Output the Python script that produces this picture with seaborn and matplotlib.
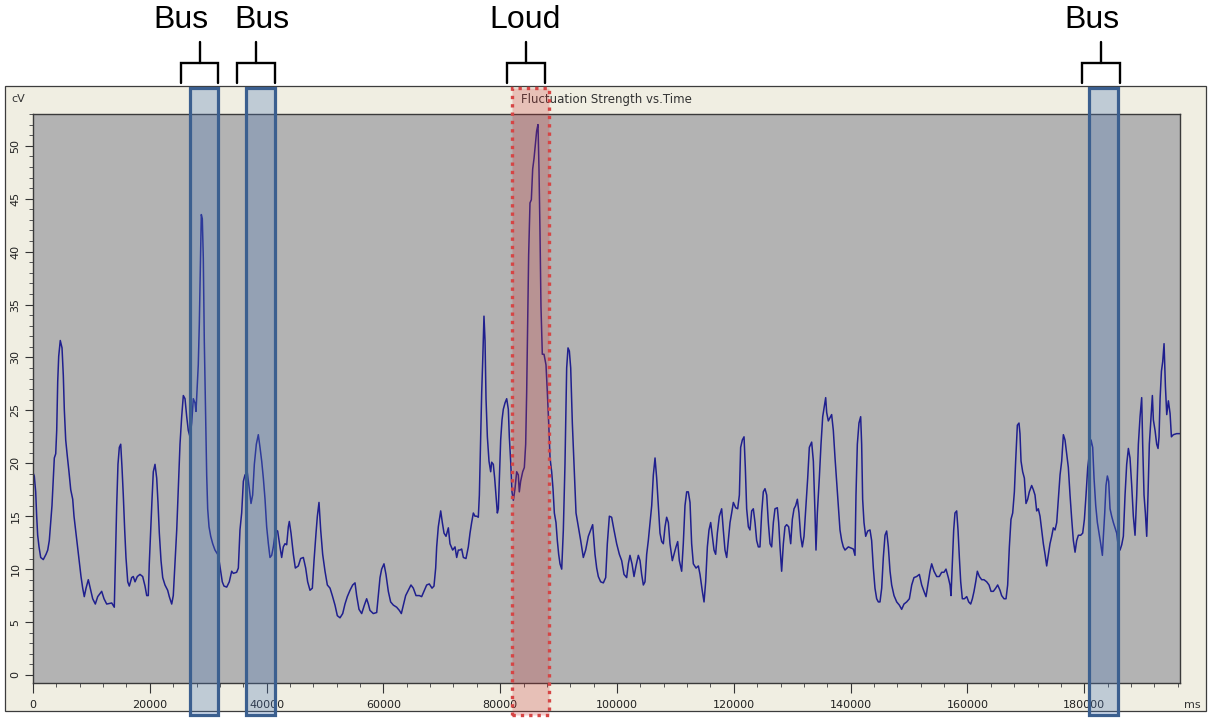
import numpy as np
import matplotlib
matplotlib.use("Agg")
import matplotlib.pyplot as plt
import matplotlib.transforms as mtransforms
from matplotlib.patches import Rectangle
from matplotlib.lines import Line2D
import seaborn as sns

sns.set_style("white")
plt.rcParams['font.family'] = ['DejaVu Sans']

# ---------------- data (time in seconds, fluctuation strength in cV) ----------------
t_seg1 = [0.00, 0.22, 0.46, 0.63, 0.80, 1.03, 1.32, 1.76, 2.23, 2.52,
          2.79, 3.03, 3.25, 3.48, 3.65, 3.89, 4.06, 4.23, 4.40, 4.67,
          4.97, 5.19, 5.36, 5.60, 5.87, 6.16, 6.46, 6.80, 7.02, 7.36,
          7.65, 7.93, 8.22, 8.51, 8.78, 9.08, 9.47, 9.88, 10.22, 10.67,
          11.08, 11.76, 12.16, 12.62, 13.48, 13.92, 14.16, 14.33, 14.55, 14.78,
          15.02, 15.24, 15.46, 15.70, 15.92, 16.22, 16.49, 16.90, 17.17, 17.47,
          17.86, 18.32, 18.78, 19.18, 19.47, 19.74, 19.91, 20.15, 20.38, 20.60,
          20.89, 21.18, 21.40, 21.63, 21.92, 22.21, 22.60, 23.06, 23.34, 23.75,
          24.02, 24.31, 24.61, 24.88, 25.17, 25.46, 25.74, 26.03, 26.32, 26.59,
          26.88, 27.17, 27.45, 27.74, 27.91, 28.13, 28.30, 28.48, 28.65, 28.82,
          28.99, 29.16, 29.33, 29.57, 29.74, 29.91, 30.14, 30.43, 30.77, 31.16,
          31.73, 32.14, 32.41, 32.70, 33.17, 33.61]
v_seg1 = [19.1, 18.8, 17.3, 15.0, 13.2, 12.1, 11.1, 10.9, 11.4, 11.8,
          12.7, 14.4, 16.0, 18.6, 20.5, 20.9, 23.1, 27.7, 30.1, 31.6,
          30.9, 28.3, 25.1, 22.2, 20.7, 19.2, 17.5, 16.6, 15.0, 13.4,
          12.1, 10.8, 9.3, 8.2, 7.4, 8.2, 9.0, 8.0, 7.2, 6.7,
          7.4, 7.9, 7.2, 6.7, 6.8, 6.4, 12.1, 16.0, 19.9, 21.5,
          21.8, 19.6, 17.0, 13.7, 11.1, 8.8, 8.4, 9.2, 9.3, 8.8,
          9.3, 9.5, 9.3, 8.4, 7.5, 7.5, 10.5, 13.7, 16.6, 19.2,
          19.9, 18.6, 16.3, 13.4, 10.8, 9.2, 8.5, 8.0, 7.4, 6.7,
          7.5, 10.5, 13.7, 17.6, 21.8, 24.4, 26.4, 26.1, 24.4, 23.1,
          22.5, 23.8, 26.1, 25.7, 24.9, 27.4, 29.3, 33.2, 38.4, 43.5,
          43.1, 39.4, 31.6, 24.1, 18.9, 15.7, 14.0, 13.1, 12.4, 11.8,
          11.3, 9.8, 8.8, 8.4, 8.3, 8.8]

t_seg2 = [34.02, 34.30, 34.87, 35.16, 35.44, 35.73, 36.02, 36.30, 36.70, 37.04,
          37.33, 37.61, 37.90, 38.24, 38.58, 38.87, 39.16, 39.44, 39.73, 40.01,
          40.30, 40.58, 40.87, 41.15, 41.55, 41.89, 42.29, 42.58, 42.86, 43.15,
          43.44, 43.72, 43.89, 44.18, 44.58, 44.92, 45.43, 45.83, 46.29, 46.69,
          47.03, 47.43, 47.83, 48.12, 48.46, 48.69, 48.97, 49.26, 49.60, 50.00,
          50.40, 50.86, 51.25, 51.71, 52.11, 52.57, 53.03, 53.42, 53.82, 54.28,
          54.74, 55.14, 55.42, 55.82, 56.28, 56.74, 57.13, 57.42, 57.70, 58.27,
          58.85, 59.13, 59.42, 59.70, 60.10, 60.44, 60.84, 61.24, 61.70, 62.27,
          62.73, 63.07, 63.41, 63.81, 64.27, 64.72, 65.12, 65.58, 66.15, 66.55,
          67.01, 67.41, 67.86, 68.32, 68.66, 68.95, 69.12, 69.40, 69.81, 70.09,
          70.38, 70.72, 71.12, 71.40, 71.86, 72.26, 72.55, 72.83]
v_seg2 = [9.8, 9.6, 9.7, 10.1, 13.7, 15.3, 18.3, 18.9, 19.1, 17.6,
          16.2, 17.0, 19.9, 21.8, 22.7, 21.5, 20.2, 18.6, 16.6, 14.0,
          12.4, 11.1, 11.3, 12.1, 13.7, 13.6, 12.1, 11.1, 12.1, 12.4,
          12.3, 14.0, 14.5, 13.4, 11.4, 10.1, 10.3, 11.0, 11.1, 10.1,
          8.8, 8.0, 8.2, 10.8, 13.4, 15.0, 16.3, 13.7, 11.4, 9.8,
          8.5, 8.2, 7.5, 6.6, 5.6, 5.4, 5.8, 6.7, 7.4, 8.0,
          8.5, 8.7, 7.5, 6.2, 5.8, 6.6, 7.2, 6.7, 6.1, 5.8,
          5.9, 7.5, 9.2, 10.0, 10.5, 9.5, 7.9, 6.9, 6.6, 6.4,
          6.1, 5.8, 6.6, 7.5, 8.0, 8.5, 8.2, 7.5, 7.5, 7.4,
          8.0, 8.5, 8.6, 8.2, 8.4, 10.1, 12.1, 14.0, 15.5, 14.4,
          13.4, 13.1, 13.9, 12.4, 11.8, 12.1, 11.1, 11.8]

t_seg3 = [73.11, 73.40, 73.69, 74.14, 74.54, 74.83, 75.11, 75.40, 75.68, 75.97,
          76.25, 76.43, 76.65, 76.83, 77.00, 77.22, 77.40, 77.57, 77.80, 78.08,
          78.37, 78.54, 78.82, 79.05, 79.28, 79.51, 79.68, 79.85, 80.08, 80.31,
          80.53, 80.82, 81.11, 81.39, 81.56, 81.79, 82.02, 82.25, 82.53, 82.82,
          83.10, 83.27, 83.50, 83.85, 84.13, 84.36, 84.53, 84.70, 84.87, 85.10,
          85.33, 85.56, 85.79, 86.01, 86.24, 86.47, 86.64, 86.81, 86.98, 87.21,
          87.50, 87.84, 88.07, 88.30, 88.53, 88.81, 89.04, 89.27, 89.55, 89.78,
          90.01, 90.24, 90.53, 90.81, 91.09, 91.38, 91.61, 91.84, 92.07, 92.35,
          92.64, 92.98, 93.38, 93.78, 94.23, 94.63, 95.09, 95.49, 95.83, 96.23,
          96.52, 96.80, 97.20, 97.66, 98.06, 98.34, 98.69, 99.08, 99.48, 99.94,
          100.40, 100.80, 101.20, 101.65, 101.94, 102.22, 102.57, 102.91, 103.25, 103.65,
          103.94, 104.22, 104.51, 104.79, 105.08, 105.36, 105.65, 105.94, 106.22, 106.51,
          106.79, 107.08, 107.36, 107.65, 107.93, 108.22, 108.50, 108.79, 109.07, 109.47,
          109.76, 110.10, 110.39, 110.67, 111.07, 111.35, 111.64, 111.93, 112.21]
v_seg3 = [11.8, 11.9, 11.1, 11.0, 12.1, 13.4, 14.4, 15.3, 15.0, 15.0,
          14.9, 17.0, 22.2, 26.7, 29.6, 33.9, 31.6, 26.1, 22.5, 20.2,
          19.2, 20.1, 19.9, 18.6, 17.0, 15.3, 15.7, 18.6, 22.2, 24.1,
          25.1, 25.7, 26.1, 25.1, 22.5, 20.2, 17.3, 16.5, 17.6, 19.2,
          18.9, 17.3, 18.3, 19.2, 19.6, 21.8, 26.7, 33.2, 39.7, 44.6,
          44.9, 47.8, 48.8, 50.1, 51.4, 52.0, 47.8, 41.9, 34.8, 30.3,
          30.3, 29.3, 26.7, 23.8, 20.5, 19.2, 17.6, 15.3, 14.4, 12.7,
          11.4, 10.5, 10.0, 13.7, 19.9, 29.0, 30.9, 30.6, 29.0, 23.8,
          19.9, 15.3, 14.0, 12.7, 11.1, 11.8, 13.1, 13.7, 14.2, 11.4,
          10.1, 9.3, 8.8, 8.7, 9.2, 12.4, 15.0, 14.9, 13.7, 12.4,
          11.4, 10.8, 9.5, 9.2, 10.5, 11.3, 10.5, 9.3, 10.3, 11.3,
          10.8, 9.5, 8.5, 8.8, 11.4, 12.7, 14.4, 16.0, 18.9, 20.5,
          18.6, 16.0, 13.4, 12.6, 12.4, 14.0, 14.9, 14.4, 12.4, 10.8,
          11.4, 12.1, 12.6, 10.8, 9.8, 12.4, 16.0, 17.3, 17.3]

t_seg4 = [112.50, 112.78, 113.07, 113.53, 113.93, 114.21, 114.61, 114.90, 115.18, 115.47,
          115.75, 116.04, 116.32, 116.61, 116.89, 117.18, 117.52, 117.92, 118.20, 118.49,
          118.78, 119.06, 119.35, 119.63, 119.92, 120.32, 120.66, 120.95, 121.17, 121.46,
          121.75, 121.97, 122.20, 122.49, 122.77, 123.06, 123.34, 123.63, 123.91, 124.20,
          124.48, 124.77, 125.05, 125.34, 125.63, 125.91, 126.20, 126.48, 126.77, 127.05,
          127.45, 127.68, 127.91, 128.19, 128.48, 128.76, 129.05, 129.39, 129.74, 130.02,
          130.31, 130.59, 130.88, 131.16, 131.45, 131.73, 132.02, 132.36, 132.65, 132.93,
          133.33, 133.62, 133.90, 134.07, 134.30, 134.64, 134.93, 135.22, 135.50, 135.73,
          135.90, 136.18, 136.47, 136.75, 137.04, 137.33, 137.61, 137.90, 138.18, 138.47,
          138.75, 139.04, 139.61, 140.46, 140.75, 140.92, 141.15, 141.43, 141.72, 141.89,
          142.06, 142.29, 142.58, 142.92, 143.32, 143.60, 143.89, 144.17, 144.46, 144.75,
          145.03, 145.32, 145.60, 145.89, 146.17, 146.46, 146.75, 147.03, 147.43, 147.89,
          148.34, 148.74, 149.14, 149.60, 150.06, 150.46, 150.85, 151.31, 151.77]
v_seg4 = [16.3, 12.4, 10.5, 10.1, 10.3, 9.5, 7.9, 6.9, 8.8, 12.1,
          13.7, 14.4, 13.1, 11.8, 11.4, 13.4, 15.0, 15.7, 13.7, 11.8,
          11.1, 12.7, 14.4, 15.3, 16.3, 15.8, 15.7, 17.0, 21.5, 22.2,
          22.5, 19.6, 15.7, 14.0, 13.7, 15.5, 15.7, 14.4, 12.7, 12.1,
          12.1, 15.3, 17.3, 17.6, 17.0, 14.4, 12.4, 12.1, 14.4, 15.7,
          15.8, 14.4, 12.1, 9.8, 12.4, 14.0, 14.2, 14.0, 12.4, 14.7,
          15.7, 16.0, 16.6, 15.3, 13.1, 12.1, 13.1, 16.0, 18.6, 21.5,
          22.0, 20.2, 15.3, 11.8, 15.3, 18.6, 21.8, 24.4, 25.4, 26.2,
          24.8, 24.0, 24.3, 24.6, 23.1, 20.5, 18.3, 16.0, 13.7, 12.7,
          12.1, 11.8, 12.1, 11.9, 11.3, 17.0, 21.8, 23.8, 24.4, 21.8,
          16.6, 14.4, 13.1, 13.6, 13.7, 12.7, 10.1, 8.2, 7.2, 6.9,
          6.9, 8.2, 11.1, 13.2, 13.6, 12.1, 9.8, 8.5, 7.5, 6.9,
          6.6, 6.2, 6.7, 6.9, 7.2, 8.5, 9.2, 9.3, 9.5]

t_seg5 = [152.17, 152.56, 152.91, 153.31, 153.59, 153.88, 154.28, 154.74, 155.19, 155.59,
          155.99, 156.33, 156.73, 157.02, 157.19, 157.42, 157.65, 157.87, 158.16, 158.39,
          158.62, 158.85, 159.13, 159.48, 159.88, 160.22, 160.56, 160.85, 161.13, 161.42,
          161.70, 162.05, 162.44, 162.84, 163.30, 163.70, 164.04, 164.44, 164.84, 165.18,
          165.58, 165.86, 166.26, 166.61, 166.89, 167.18, 167.46, 167.75, 168.04, 168.26,
          168.55, 168.83, 169.00, 169.18, 169.46, 169.75, 170.03, 170.32, 170.60, 171.00,
          171.29, 171.57, 171.86, 172.14, 172.43, 172.72, 173.00, 173.29, 173.57, 173.86,
          174.14, 174.43, 174.71, 175.00, 175.29, 175.57, 175.86, 176.14, 176.43, 176.71,
          177.00, 177.28, 177.57, 177.86, 178.14, 178.43, 178.71, 179.00, 179.40, 179.74,
          180.03, 180.31, 180.60, 180.88, 181.17, 181.45, 181.68, 181.97, 182.25, 182.54,
          182.82, 183.11, 183.28, 183.51, 183.73, 183.96, 184.19, 184.42, 184.70, 184.99,
          185.27, 185.56, 185.84, 186.13, 186.42, 186.70, 186.99, 187.27, 187.56, 187.84,
          188.13, 188.41, 188.70, 188.99, 189.27, 189.56, 189.84, 190.01, 190.24, 190.47,
          190.70, 190.92, 191.15, 191.44, 191.67, 191.84, 192.13, 192.41, 192.64, 192.81,
          192.99, 193.22, 193.44, 193.67, 193.90, 194.13, 194.41, 194.70, 194.93, 195.26,
          195.83, 196.40]
v_seg5 = [8.5, 7.9, 7.4, 8.8, 9.8, 10.5, 9.8, 9.3, 9.3, 9.7,
          9.7, 10.0, 9.2, 8.5, 7.5, 10.5, 13.7, 15.3, 15.5, 13.7,
          11.1, 8.8, 7.2, 7.2, 7.4, 6.9, 6.7, 7.2, 7.9, 8.8,
          9.8, 9.3, 9.0, 9.0, 8.8, 8.5, 7.9, 7.9, 8.2, 8.5,
          8.0, 7.5, 7.2, 7.2, 8.5, 12.1, 14.7, 15.3, 17.3, 20.2,
          23.6, 23.8, 22.8, 20.2, 19.2, 18.6, 16.2, 16.6, 17.3, 17.9,
          17.5, 17.0, 15.5, 15.7, 15.0, 13.7, 12.4, 11.4, 10.3, 11.4,
          12.4, 13.1, 13.9, 13.7, 14.4, 16.6, 18.9, 20.2, 22.7, 22.2,
          20.9, 19.6, 17.0, 14.7, 12.7, 11.6, 12.7, 13.2, 13.2, 13.4,
          14.7, 17.0, 19.6, 20.9, 22.2, 21.5, 18.6, 16.0, 14.4, 13.4,
          12.4, 11.3, 13.1, 15.3, 17.9, 18.8, 18.3, 15.7, 15.0, 14.4,
          13.9, 13.4, 12.1, 11.8, 12.3, 13.1, 17.0, 19.9, 21.4, 20.5,
          17.9, 15.0, 13.2, 17.0, 21.8, 24.4, 26.2, 21.8, 17.0, 15.3,
          13.1, 17.0, 21.8, 24.4, 26.4, 24.1, 23.1, 21.8, 21.4, 22.5,
          26.1, 28.7, 29.6, 31.3, 27.3, 24.6, 25.9, 24.7, 22.5, 22.7,
          22.8, 22.8]

# annotated events: label, start (ms), end (ms), highlight kind
event_labels = ["Bus", "Bus", "Loud", "Bus"]
event_start_ms = [26800, 36500, 82000, 180900]
event_end_ms = [31700, 41400, 88400, 185800]
event_kind = ["bus", "bus", "loud", "bus"]

x_ticks = list(range(0, 180001, 20000))
y_ticks = list(range(0, 51, 5))

# ---------------- assemble ----------------
time_ms = np.array(t_seg1 + t_seg2 + t_seg3 + t_seg4 + t_seg5) * 1000.0
values = np.array(v_seg1 + v_seg2 + v_seg3 + v_seg4 + v_seg5)
assert len(time_ms) == len(values)

W, H = 1208, 720
fig = plt.figure(figsize=(W / 100, H / 100), dpi=100)
fig.patch.set_facecolor("white")

def fx(px):
    return px / W

def fy(py):
    return 1 - py / H

# beige instrument panel
panel = Rectangle((fx(5), fy(711)), fx(1206) - fx(5), fy(86) - fy(711),
                  transform=fig.transFigure, facecolor="#F0EEE2",
                  edgecolor="#3c3c3c", lw=0.9, zorder=-5)
fig.add_artist(panel)

ax = fig.add_axes([fx(33), fy(683), fx(1180) - fx(33), fy(114) - fy(683)])
ax.set_facecolor("#B3B3B3")

sns.lineplot(x=time_ms, y=values, ax=ax, color="#1F1F8E", linewidth=1.1,
             estimator=None, sort=False, legend=False)

ax.set_xlim(0, 196400)
ax.set_ylim(-0.76, 53.0)
ax.set_xlabel("")
ax.set_ylabel("")

ax.set_xticks(x_ticks)
ax.set_xticklabels([str(v) for v in x_ticks])
ax.set_xticks(np.arange(0, 196400, 4000), minor=True)
ax.set_yticks(y_ticks)
ax.set_yticklabels([str(v) for v in y_ticks])
ax.set_yticks(np.arange(0, 54, 1), minor=True)

ax.tick_params(axis="both", which="both", bottom=True, left=True, top=False, right=False)
ax.tick_params(axis="both", which="major", direction="out", length=6, width=0.8,
               color="#333333", labelsize=8, labelcolor="#222222")
ax.tick_params(axis="both", which="minor", direction="out", length=3, width=0.7,
               color="#555555")
ax.tick_params(axis="x", which="major", pad=5.5, length=7)
ax.tick_params(axis="y", which="major", pad=3, labelrotation=90)
for lab in ax.get_yticklabels():
    lab.set_va("center")

for sp in ax.spines.values():
    sp.set_visible(True)
    sp.set_color("#3a3a3a")
    sp.set_linewidth(1.0)

# panel texts
fig.text(fx(606), fy(99), "Fluctuation Strength vs.Time", ha="center", va="center",
         fontsize=8.5, color="#333333")
fig.text(fx(18), fy(99), "cV", ha="center", va="center", fontsize=8, color="#333333")
fig.text(fx(1192), fy(705), "ms", ha="center", va="center", fontsize=8, color="#333333")

# highlight boxes (x in data, y in figure coords)
trans = mtransforms.blended_transform_factory(ax.transData, fig.transFigure)
box_y0, box_y1 = fy(715), fy(88)
for s, e, k in zip(event_start_ms, event_end_ms, event_kind):
    if k == "bus":
        rect = Rectangle((s, box_y0), e - s, box_y1 - box_y0, transform=trans,
                         facecolor=(79 / 255, 122 / 255, 185 / 255, 0.30),
                         edgecolor="#3B5F8F", lw=2.3, zorder=10)
    else:
        rect = Rectangle((s, box_y0), e - s, box_y1 - box_y0, transform=trans,
                         facecolor=(204 / 255, 49 / 255, 49 / 255, 0.24),
                         edgecolor="#D64545", lw=2.4, linestyle=(0, (1, 1.5)),
                         zorder=10)
    fig.add_artist(rect)

# brackets and labels above the boxes
bracket_left_ms = [25340, 34930, 81160, 179620]
bracket_right_ms = [31680, 41440, 87670, 186130]
label_x_ms = [25260, 39210, 84250, 181330]
yb_low, yb_mid, yb_top = fy(83), fy(63), fy(42)
for l, r, lx, txt in zip(bracket_left_ms, bracket_right_ms, label_x_ms, event_labels):
    m = (l + r) / 2
    fig.add_artist(Line2D([l, l, r, r], [yb_low, yb_mid, yb_mid, yb_low],
                          transform=trans, color="black", lw=1.7,
                          solid_joinstyle="miter"))
    fig.add_artist(Line2D([m, m], [yb_mid, yb_top], transform=trans,
                          color="black", lw=1.7))
    fig.text(lx, fy(20), txt, transform=trans, ha="center", va="center",
             fontsize=23, family=["Liberation Sans", "DejaVu Sans"], color="black")

fig.savefig("out.png", dpi=100, facecolor="white")
